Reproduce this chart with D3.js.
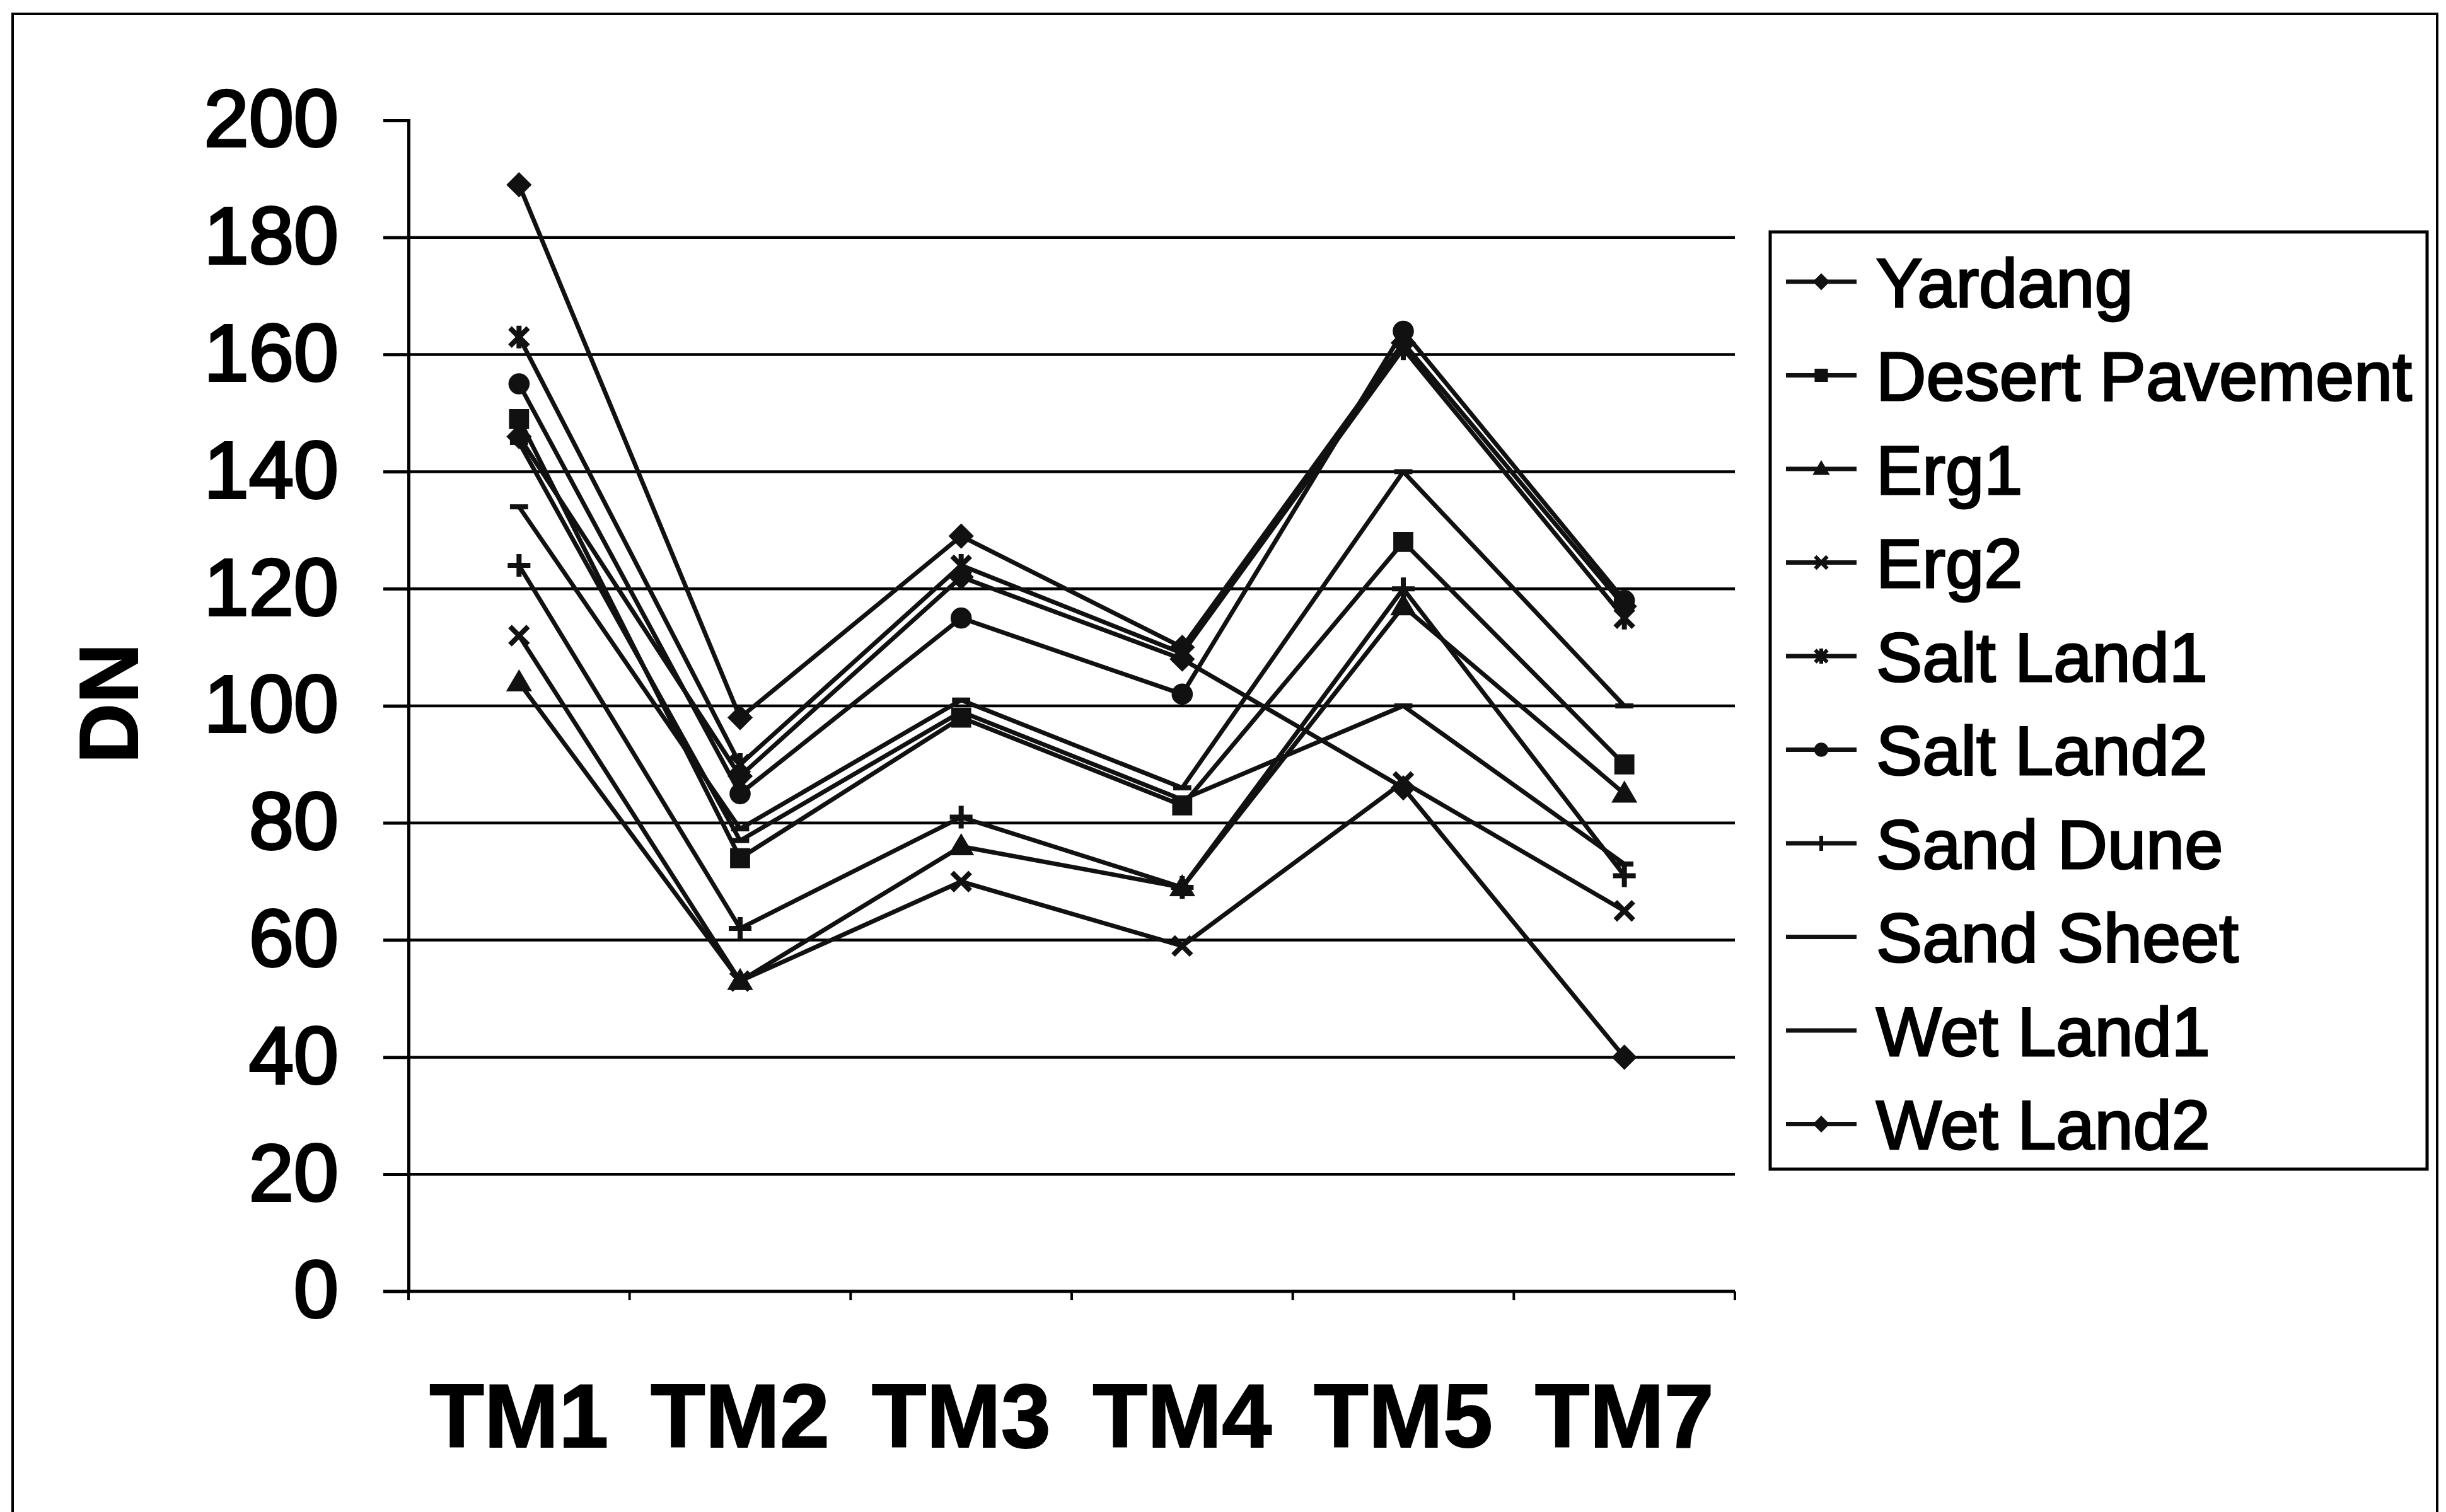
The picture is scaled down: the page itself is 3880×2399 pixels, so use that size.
<!DOCTYPE html>
<html>
<head>
<meta charset="utf-8">
<script src="https://cdn.jsdelivr.net/npm/d3@7"></script>
<style>
  html, body { margin: 0; padding: 0; background: #fff; }
  svg { display: block; }
</style>
</head>
<body>
<svg id="chart" width="3880" height="2399"></svg>
<script>
// ---------------- data ----------------
const categories = ["TM1", "TM2", "TM3", "TM4", "TM5", "TM7"];
const seriesNames = ["Yardang", "Desert Pavement", "Erg1", "Erg2", "Salt Land1",
                     "Salt Land2", "Sand Dune", "Sand Sheet", "Wet Land1", "Wet Land2"];
const yardang        = [189, 98, 129, 110, 162, 117];
const desertPavement = [149, 74, 98, 83, 128, 90];
const erg1           = [104, 53, 76, 69, 117, 85];
const erg2           = [112, 53, 70, 59, 87, 65];
const saltLand1      = [163, 90, 124, 109, 161, 115];
const saltLand2      = [155, 85, 115, 102, 164, 118];
const sandDune       = [124, 62, 81, 69, 120, 71];
const sandSheet      = [134, 79, 101, 86, 140, 100];
const wetLand1       = [145, 77, 99, 84, 100, 73];
const wetLand2       = [146, 88, 122, 108, 86, 40];
const seriesMarkers  = ["diamond", "square", "triangle", "x", "asterisk",
                        "circle", "plus", "dash", "dash", "diamond"];
const yTicks = [0, 20, 40, 60, 80, 100, 120, 140, 160, 180, 200];
const yLabel = "DN";

const seriesValues = [yardang, desertPavement, erg1, erg2, saltLand1,
                      saltLand2, sandDune, sandSheet, wetLand1, wetLand2];
const series = seriesNames.map((name, i) => ({
  name, marker: seriesMarkers[i],
  values: categories.map((c, j) => ({ cat: c, v: seriesValues[i][j] }))
}));

// ---------------- layout ----------------
const svg = d3.select("#chart");
const FONT = "'Liberation Sans', Arial, Helvetica, sans-serif";
const plotLeft = 648, plotRight = 2752, plotTop = 191, plotBottom = 2049;

const x = d3.scaleBand().domain(categories).range([plotLeft, plotRight]).paddingInner(0).paddingOuter(0);
const xc = c => x(c) + x.bandwidth() / 2;
const y = d3.scaleLinear().domain([0, 200]).range([plotBottom, plotTop]);

// outer frame (left, top, right)
svg.append("path")
  .attr("d", "M20,2399 L20,22 L3866,22 L3866,2399")
  .attr("fill", "none").attr("stroke", "#000").attr("stroke-width", 4);

// gridlines
svg.append("g").selectAll("line")
  .data(yTicks.filter(t => t > 0 && t < 200))
  .join("line")
  .attr("x1", plotLeft - 40).attr("x2", plotRight)
  .attr("y1", d => y(d)).attr("y2", d => y(d))
  .attr("stroke", "#000").attr("stroke-width", 4.5);

// y axis
const yAxis = d3.axisLeft(y).tickValues(yTicks).tickSize(40).tickPadding(71).tickFormat(d3.format("d"));
const gy = svg.append("g").attr("transform", `translate(${plotLeft},0)`).call(yAxis);
gy.select(".domain").attr("stroke", "#000").attr("stroke-width", 5);
gy.selectAll(".tick line").attr("stroke", "#000").attr("stroke-width", 4.5);
gy.selectAll(".tick").filter(d => d === 200).select("line").attr("x2", -26);
gy.selectAll(".tick text")
  .attr("font-family", FONT).attr("font-size", 128).attr("fill", "#000")
  .attr("stroke", "#000").attr("stroke-width", 4);

// x axis
const xAxis = d3.axisBottom(x).tickSize(0).tickPadding(0).tickFormat(() => "");
const gx = svg.append("g").attr("transform", `translate(0,${plotBottom})`).call(xAxis);
gx.select(".domain").remove();
gx.append("line").attr("x1", plotLeft - 40).attr("x2", plotRight)
  .attr("y1", 0).attr("y2", 0).attr("stroke", "#000").attr("stroke-width", 5);
// category boundary ticks
gx.selectAll(".bnd").data(categories.map(c => x(c)).concat([plotRight]))
  .join("line").attr("class", "bnd")
  .attr("x1", d => d).attr("x2", d => d).attr("y1", 0).attr("y2", 14)
  .attr("stroke", "#000").attr("stroke-width", 4);
// category labels
svg.append("g").selectAll("text").data(categories).join("text")
  .attr("x", d => xc(d)).attr("y", 2296)
  .attr("text-anchor", "middle")
  .attr("font-family", FONT).attr("font-weight", "bold").attr("font-size", 142)
  .attr("stroke", "#000").attr("stroke-width", 2)
  .text(d => d);

// y label
svg.append("text")
  .attr("transform", `translate(218,1116) rotate(-90)`)
  .attr("text-anchor", "middle")
  .attr("font-family", FONT).attr("font-weight", "bold").attr("font-size", 132)
  .attr("stroke", "#000").attr("stroke-width", 2)
  .text(yLabel);

// ---------------- markers ----------------
function markerPath(type, r) {
  switch (type) {
    case "diamond": return { d: `M0,${-r}L${r},0L0,${r}L${-r},0Z`, fill: true };
    case "square": return { d: `M${-r*0.8},${-r*0.8}H${r*0.8}V${r*0.8}H${-r*0.8}Z`, fill: true };
    case "triangle": return { d: `M0,${-r}L${r},${r*0.7}L${-r},${r*0.7}Z`, fill: true };
    case "circle": return { d: d3.symbol(d3.symbolCircle, Math.PI * (r*0.85) * (r*0.85))(), fill: true };
    case "x": return { d: `M${-r*0.8},${-r*0.8}L${r*0.8},${r*0.8}M${r*0.8},${-r*0.8}L${-r*0.8},${r*0.8}`, fill: false };
    case "asterisk": return { d: `M${-r*0.8},${-r*0.8}L${r*0.8},${r*0.8}M${r*0.8},${-r*0.8}L${-r*0.8},${r*0.8}M0,${-r}L0,${r}`, fill: false };
    case "plus": return { d: `M${-r},0L${r},0M0,${-r}L0,${r}`, fill: false };
    case "dash": return { d: `M${-r*0.8},0L${r*0.8},0`, fill: false };
  }
}

// ---------------- lines ----------------
const line = d3.line().x(d => xc(d.cat)).y(d => y(d.v));
const gs = svg.append("g").selectAll("g").data(series).join("g");
gs.append("path")
  .attr("d", d => line(d.values))
  .attr("fill", "none").attr("stroke", "#111").attr("stroke-width", 7)
  .attr("stroke-linejoin", "round");
gs.each(function (s) {
  const m = markerPath(s.marker, 18);
  d3.select(this).selectAll("path.mk").data(s.values).join("path")
    .attr("class", "mk")
    .attr("transform", d => `translate(${xc(d.cat)},${y(d.v)})`)
    .attr("d", m.d)
    .attr("fill", m.fill ? "#111" : "none")
    .attr("stroke", "#111").attr("stroke-width", m.fill ? 3 : 8);
});

// ---------------- legend ----------------
const lg = svg.append("g");
lg.append("rect").attr("x", 2808).attr("y", 368).attr("width", 3850 - 2808).attr("height", 1855 - 368)
  .attr("fill", "none").attr("stroke", "#000").attr("stroke-width", 5);
const li = lg.selectAll("g.item").data(series).join("g").attr("class", "item")
  .attr("transform", (d, i) => `translate(0,${447 + i * 148.5})`);
li.append("line").attr("x1", 2833).attr("x2", 2945).attr("y1", 0).attr("y2", 0)
  .attr("stroke", "#111").attr("stroke-width", 7);
li.each(function (s) {
  const m = markerPath(s.marker, 12);
  d3.select(this).append("path")
    .attr("transform", "translate(2889,0)")
    .attr("d", m.d)
    .attr("fill", m.fill ? "#111" : "none")
    .attr("stroke", "#111").attr("stroke-width", m.fill ? 2 : 6);
});
li.append("text").attr("x", 2976).attr("y", 0).attr("dy", "0.36em")
  .attr("font-family", FONT).attr("font-size", 110)
  .attr("stroke", "#000").attr("stroke-width", 3)
  .text(d => d.name);
</script>
</body>
</html>
